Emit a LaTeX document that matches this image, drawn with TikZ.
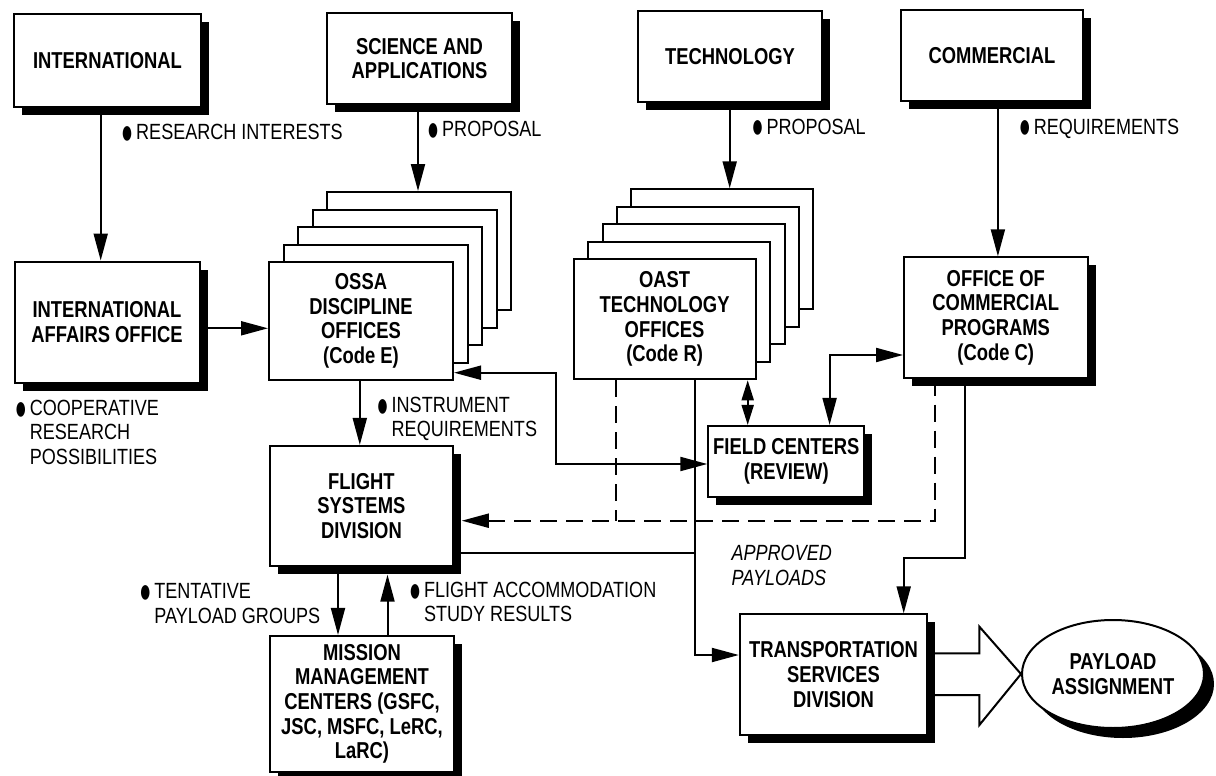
\documentclass[tikz,border=0pt]{standalone}
\usepackage{fontspec}
\setmainfont[FakeStretch=0.82]{Liberation Sans}
\newfontfamily\boxfont[FakeStretch=0.80]{Liberation Sans}
\usetikzlibrary{arrows.meta,shadows,calc,shapes.geometric}
\pgfdeclarelayer{background}
\pgfsetlayers{background,main}
\newcommand{\bul}{\leavevmode\llap{\raisebox{-4pt}{\scalebox{1.1}[1.55]{●}}\kern3pt}}
\tikzset{
  box/.style={draw=black, line width=2pt, fill=white, rectangle, inner sep=0pt,
    align=center, font=\boxfont\bfseries\fontsize{23}{24.7}\selectfont},
  shad/.style={general shadow={fill=black, shadow xshift=8pt, shadow yshift=-8pt}},
  eshad/.style={general shadow={fill=black, shadow xshift=10pt, shadow yshift=-10pt}},
  conn/.style={line width=2pt},
  arr/.style={conn, -{Triangle[length=27pt,width=14pt]}},
  arrs/.style={conn, {Triangle[length=27pt,width=14pt]}-{Triangle[length=27pt,width=14pt]}},
  arrsm/.style={conn, {Triangle[length=20pt,width=12pt]}-{Triangle[length=20pt,width=12pt]}},
  dashline/.style={conn, dash pattern=on 17pt off 9pt},
  lbl/.style={inner sep=0pt, anchor=base west, align=left, font=\fontsize{22}{24.5}\selectfont},
}
\begin{document}
\begin{tikzpicture}[x=1pt,y=-1pt]
\useasboundingbox (0,0) rectangle (1216,776);
% top sources
\node[box, shad, minimum width=187pt, minimum height=93pt] (intl) at (107.5,60.5) {INTERNATIONAL};
\node[box, shad, minimum width=185pt, minimum height=91pt] (sci) at (419.5,58.5) {SCIENCE AND\\APPLICATIONS};
\node[box, shad, minimum width=184pt, minimum height=91pt] (tech) at (730,56.5) {TECHNOLOGY};
\node[box, shad, minimum width=182pt, minimum height=91pt] (comm) at (992,55.5) {COMMERCIAL};
% offices
\node[box, shad, minimum width=185pt, minimum height=121pt] (iao) at (107,322) {INTERNATIONAL\\AFFAIRS OFFICE};
\foreach \k in {4,3,2,1}{
  \node[box, minimum width=184pt, minimum height=118pt] (ossa\k) at ({361+14.6*\k},{321-17.5*\k}) {};
}
\node[box, minimum width=184pt, minimum height=118pt] (ossa) at (361,321) {OSSA\\DISCIPLINE\\OFFICES\\(Code E)};
\foreach \k in {4,3,2,1}{
  \node[box, minimum width=182pt, minimum height=120pt] (oast\k) at ({664.6+14.45*\k},{319.3-17.5*\k}) {};
}
\node[box, minimum width=182pt, minimum height=120pt] (oast) at (664.6,319.3) {OAST\\TECHNOLOGY\\OFFICES\\(Code R)};
\node[box, shad, minimum width=183.5pt, minimum height=120.4pt] (ocp) at (995.8,317.5) {OFFICE OF\\COMMERCIAL\\PROGRAMS\\(Code C)};
\node[box, shad, minimum width=156pt, minimum height=70.7pt] (field) at (786.3,461.3) {FIELD CENTERS\\(REVIEW)};
\node[box, shad, minimum width=182.7pt, minimum height=119.7pt] (fsd) at (361.4,505.8) {FLIGHT\\SYSTEMS\\DIVISION};
\node[box, shad, minimum width=184pt, minimum height=135.7pt] (mmc) at (362,703.8) {MISSION\\MANAGEMENT\\CENTERS (GSFC,\\JSC, MSFC, LeRC,\\LaRC)};
\node[box, shad, minimum width=187.3pt, minimum height=120.7pt] (tsd) at (833.5,674.7) {TRANSPORTATION\\SERVICES\\DIVISION};
\node[box, eshad, ellipse, minimum width=182pt, minimum height=108pt] (pay) at (1113,674) {PAYLOAD\\ASSIGNMENT};
% labels (anchor = baseline of the last line)
\node[lbl] (l1) at (136,139.5) {\bul RESEARCH INTERESTS};
\node[lbl] (l2) at (442,136.7) {\bul PROPOSAL};
\node[lbl] (l3) at (766.3,134) {\bul PROPOSAL};
\node[lbl] (l4) at (1033.6,134) {\bul REQUIREMENTS};
\node[lbl] (l5) at (29.7,464) {\bul COOPERATIVE\\RESEARCH\\POSSIBILITIES};
\node[lbl] (l6) at (391.5,436.7) {\bul INSTRUMENT\\REQUIREMENTS};
\node[lbl] (l7) at (154.2,623.3) {\bul TENTATIVE\\PAYLOAD GROUPS};
\node[lbl] (l8) at (423.9,621.7) {\bul FLIGHT ACCOMMODATION\\STUDY RESULTS};
\node[lbl, font=\itshape\fontsize{22}{24.5}\selectfont] (l9) at (731.4,585) {APPROVED\\PAYLOADS};
% connectors
\begin{pgfonlayer}{background}
\draw[arr] (intl.south -| 100.7,0) -- (iao.north -| 100.7,0);
\draw[arr] (sci.south -| 418,0) -- (ossa4.north -| 418,0);
\draw[arr] (tech.south -| 729.7,0) -- (oast4.north -| 729.7,0);
\draw[arr] (comm.south -| 997.9,0) -- (ocp.north -| 997.9,0);
\draw[arr] (iao.east |- 0,328.3) -- (ossa.west |- 0,328.3);
\draw[arr] (ossa.south -| 359.8,0) -- (fsd.north -| 359.8,0);
\draw[arrs] (ossa.east |- 0,372.7) -| (556,464) -- (field.west |- 0,464);
\draw[arrsm] (oast.south -| 747.7,0) -- (field.north -| 747.7,0);
\draw[arrs] (field.north -| 829.6,0) |- (ocp.west |- 0,355);
\draw[dashline] (oast.south -| 616,0) -- (616,520.7);
\draw[dashline, -{Triangle[length=27pt,width=14pt]}] (ocp.south -| 934.8,0) |- ($(fsd.east |- 0,520.7)+(8,0)$);
\draw[arr] (oast.south -| 695.2,0) |- (tsd.west |- 0,655);
\draw[conn] (fsd.east |- 0,553.3) -- (695.2,553.3);
\draw[arr] (ocp.south -| 964.7,0) -- (964.7,557.7) -| (tsd.north -| 903.7,0);
\draw[arr] (fsd.south -| 338,0) -- (mmc.north -| 338,0);
\draw[arr] (mmc.north -| 387.5,0) -- ($(fsd.south -| 387.5,0)+(0,8)$);
\draw[line width=2pt, fill=white] (930,653.3) -- (979.4,653.3) -- (979.4,626.7) -- (pay.west) -- (979.4,725) -- (979.4,695) -- (930,695);
\end{pgfonlayer}
\end{tikzpicture}
\end{document}
